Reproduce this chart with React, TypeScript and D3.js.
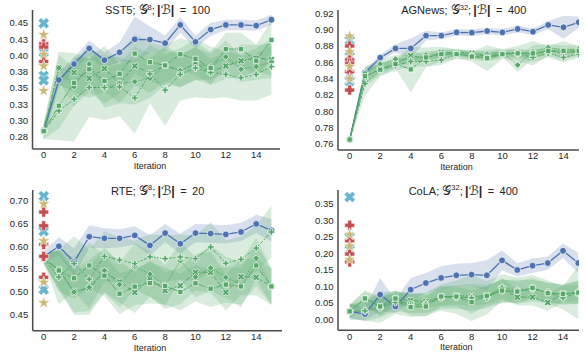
import React from "react";
import * as d3 from "d3";

// ---------- shared categories ----------
const ITER = [0, 1, 2, 3, 4, 5, 6, 7, 8, 9, 10, 11, 12, 13, 14, 15];
const X_TICKS = [0, 2, 4, 6, 8, 10, 12, 14];
const X_TICK_LABELS = ["0", "2", "4", "6", "8", "10", "12", "14"];
const PANEL_NAMES = ["SST5", "AGNews", "RTE", "CoLA"];
const PANEL_GROUPS = ["8", "32", "8", "32"];
const PANEL_BUDGETS = ["100", "400", "20", "400"];
const X_LABEL = "Iteration";

// ---------- SST5 ----------
const sst5Blue = [0.285, 0.3625, 0.387, 0.411, 0.393, 0.405, 0.425, 0.4245, 0.419, 0.447, 0.421, 0.44, 0.447, 0.447, 0.446, 0.455];
const sst5BlueSd = [0.006, 0.012, 0.01, 0.012, 0.012, 0.015, 0.035, 0.02, 0.012, 0.012, 0.01, 0.01, 0.008, 0.008, 0.008, 0.008];
const sst5X = [0.284, 0.381, 0.374, 0.365, 0.38, 0.357, 0.384, 0.373, 0.385, 0.376, 0.388, 0.375, 0.384, 0.392, 0.396, 0.394];
const sst5XSd = [0.012, 0.025, 0.03, 0.03, 0.035, 0.03, 0.03, 0.03, 0.025, 0.025, 0.025, 0.02, 0.02, 0.025, 0.02, 0.025];
const sst5Diamond = [0.284, 0.381, 0.352, 0.387, 0.35, 0.357, 0.36, 0.365, 0.385, 0.377, 0.387, 0.383, 0.398, 0.379, 0.383, 0.39];
const sst5DiamondSd = [0.012, 0.02, 0.03, 0.03, 0.03, 0.03, 0.035, 0.03, 0.03, 0.025, 0.025, 0.02, 0.025, 0.02, 0.02, 0.025];
const sst5Plus = [0.284, 0.315, 0.333, 0.351, 0.351, 0.352, 0.335, 0.372, 0.347, 0.371, 0.381, 0.374, 0.371, 0.366, 0.371, 0.383];
const sst5PlusSd = [0.012, 0.045, 0.065, 0.045, 0.05, 0.045, 0.055, 0.045, 0.055, 0.04, 0.045, 0.04, 0.035, 0.035, 0.04, 0.043];
const sst5Square = [0.284, 0.323, 0.358, 0.379, 0.361, 0.372, 0.403, 0.39, 0.385, 0.402, 0.395, 0.381, 0.41, 0.41, 0.392, 0.424];
const sst5SquareSd = [0.012, 0.035, 0.035, 0.035, 0.035, 0.03, 0.03, 0.03, 0.03, 0.025, 0.025, 0.025, 0.025, 0.025, 0.025, 0.03];
const sst5BaseCyan = [0.4495, 0.405, 0.369, 0.362];
const sst5BaseRed = [0.418, 0.413, 0.391];
const sst5BaseGold = [0.432, 0.402, 0.384, 0.346];
const sst5YTicks = [0.275, 0.3, 0.325, 0.35, 0.375, 0.4, 0.425, 0.45];
const sst5YLabels = ["0.28", "0.30", "0.33", "0.35", "0.38", "0.40", "0.43", "0.45"];

// ---------- AGNews ----------
const agBlue = [0.7655, 0.847, 0.8657, 0.877, 0.877, 0.8926, 0.8926, 0.8967, 0.8963, 0.8983, 0.8967, 0.9008, 0.8975, 0.9057, 0.9029, 0.909];
const agBlueSd = [0.003, 0.004, 0.004, 0.005, 0.012, 0.006, 0.004, 0.004, 0.004, 0.004, 0.004, 0.004, 0.004, 0.005, 0.014, 0.007];
const agX = [0.7655, 0.842, 0.852, 0.858, 0.868, 0.865, 0.872, 0.872, 0.871, 0.867, 0.871, 0.872, 0.87, 0.874, 0.872, 0.873];
const agXSd = [0.003, 0.008, 0.005, 0.005, 0.006, 0.005, 0.005, 0.004, 0.004, 0.005, 0.004, 0.005, 0.005, 0.004, 0.005, 0.004];
const agDiamond = [0.7655, 0.8465, 0.858, 0.864, 0.863, 0.869, 0.869, 0.872, 0.869, 0.87, 0.872, 0.8567, 0.873, 0.878, 0.875, 0.8763];
const agDiamondSd = [0.003, 0.008, 0.005, 0.005, 0.006, 0.005, 0.005, 0.004, 0.005, 0.005, 0.005, 0.009, 0.008, 0.004, 0.006, 0.004];
const agPlus = [0.7655, 0.834, 0.851, 0.856, 0.861, 0.861, 0.8628, 0.87, 0.868, 0.866, 0.87, 0.871, 0.866, 0.871, 0.866, 0.87];
const agPlusSd = [0.003, 0.015, 0.008, 0.006, 0.006, 0.006, 0.006, 0.005, 0.005, 0.005, 0.005, 0.005, 0.006, 0.005, 0.006, 0.005];
const agSquare = [0.7655, 0.843, 0.851, 0.858, 0.8514, 0.866, 0.87, 0.87, 0.867, 0.865, 0.87, 0.871, 0.871, 0.874, 0.874, 0.874];
const agSquareSd = [0.003, 0.012, 0.007, 0.006, 0.028, 0.012, 0.009, 0.006, 0.006, 0.016, 0.006, 0.009, 0.015, 0.006, 0.012, 0.006];
const agBaseCyan = [0.887, 0.867, 0.845, 0.837];
const agBaseRed = [0.88, 0.863, 0.859, 0.8485, 0.826];
const agBaseGold = [0.892, 0.873, 0.855, 0.84];
const agYTicks = [0.76, 0.78, 0.8, 0.82, 0.84, 0.86, 0.88, 0.9, 0.92];
const agYLabels = ["0.76", "0.78", "0.80", "0.82", "0.84", "0.86", "0.88", "0.90", "0.92"];

// ---------- RTE ----------
const rteBlue = [0.577, 0.6, 0.5656, 0.621, 0.6175, 0.6175, 0.624, 0.602, 0.629, 0.6057, 0.629, 0.628, 0.626, 0.6314, 0.649, 0.635];
const rteBlueSd = [0.012, 0.02, 0.03, 0.025, 0.022, 0.02, 0.02, 0.022, 0.02, 0.022, 0.02, 0.02, 0.02, 0.02, 0.02, 0.025];
const rteX = [0.573, 0.549, 0.5, 0.508, 0.545, 0.522, 0.499, 0.53, 0.5027, 0.5137, 0.543, 0.543, 0.499, 0.5334, 0.532, 0.512];
const rteXSd = [0.01, 0.04, 0.045, 0.05, 0.045, 0.045, 0.045, 0.04, 0.04, 0.04, 0.04, 0.045, 0.04, 0.04, 0.04, 0.04];
const rteDiamond = [0.573, 0.5487, 0.4998, 0.51, 0.547, 0.516, 0.556, 0.539, 0.514, 0.5685, 0.5327, 0.5525, 0.532, 0.516, 0.5737, 0.512];
const rteDiamondSd = [0.01, 0.045, 0.05, 0.06, 0.05, 0.05, 0.05, 0.05, 0.045, 0.04, 0.045, 0.05, 0.045, 0.05, 0.045, 0.04];
const rtePlus = [0.573, 0.5327, 0.562, 0.528, 0.578, 0.57, 0.562, 0.577, 0.573, 0.5765, 0.573, 0.5985, 0.5627, 0.5715, 0.596, 0.6314];
const rtePlusSd = [0.01, 0.06, 0.06, 0.065, 0.055, 0.05, 0.05, 0.05, 0.05, 0.05, 0.05, 0.055, 0.05, 0.05, 0.05, 0.057];
const rteSquare = [0.573, 0.547, 0.53, 0.558, 0.5355, 0.496, 0.5115, 0.5195, 0.513, 0.4998, 0.519, 0.507, 0.516, 0.512, 0.558, 0.512];
const rteSquareSd = [0.01, 0.045, 0.045, 0.05, 0.045, 0.045, 0.04, 0.045, 0.04, 0.04, 0.04, 0.04, 0.04, 0.04, 0.045, 0.04];
const rteBaseCyan = [0.71, 0.633, 0.505];
const rteBaseRed = [0.675, 0.645, 0.604, 0.578, 0.532];
const rteBaseGold = [0.693, 0.612, 0.521, 0.476];
const rteYTicks = [0.45, 0.5, 0.55, 0.6, 0.65, 0.7];
const rteYLabels = ["0.45", "0.50", "0.55", "0.60", "0.65", "0.70"];

// ---------- CoLA ----------
const colaBlue = [0.025, 0.017, 0.0755, 0.04, 0.0905, 0.1107, 0.126, 0.134, 0.136, 0.134, 0.179, 0.15, 0.163, 0.171, 0.208, 0.171];
const colaBlueSd = [0.025, 0.018, 0.05, 0.02, 0.035, 0.03, 0.035, 0.035, 0.035, 0.045, 0.03, 0.02, 0.022, 0.02, 0.022, 0.03];
const colaX = [0.025, 0.064, 0.04, 0.063, 0.058, 0.055, 0.068, 0.072, 0.071, 0.072, 0.094, 0.068, 0.068, 0.052, 0.078, 0.08];
const colaXSd = [0.02, 0.02, 0.025, 0.02, 0.02, 0.02, 0.025, 0.025, 0.03, 0.025, 0.03, 0.025, 0.025, 0.025, 0.025, 0.025];
const colaDiamond = [0.025, 0.025, 0.037, 0.055, 0.05, 0.05, 0.067, 0.068, 0.068, 0.07, 0.085, 0.086, 0.09, 0.083, 0.075, 0.083];
const colaDiamondSd = [0.02, 0.03, 0.03, 0.03, 0.03, 0.03, 0.035, 0.035, 0.04, 0.035, 0.035, 0.035, 0.03, 0.03, 0.03, 0.035];
const colaPlus = [0.025, 0.027, 0.036, 0.052, 0.043, 0.047, 0.067, 0.068, 0.066, 0.066, 0.097, 0.088, 0.095, 0.083, 0.066, 0.082];
const colaPlusSd = [0.02, 0.03, 0.045, 0.035, 0.035, 0.035, 0.04, 0.05, 0.07, 0.05, 0.04, 0.04, 0.04, 0.035, 0.035, 0.08];
const colaSquare = [0.025, 0.064, 0.04, 0.064, 0.038, 0.04, 0.07, 0.07, 0.053, 0.072, 0.088, 0.085, 0.096, 0.08, 0.078, 0.082];
const colaSquareSd = [0.02, 0.025, 0.03, 0.025, 0.025, 0.03, 0.03, 0.03, 0.035, 0.03, 0.035, 0.03, 0.03, 0.03, 0.03, 0.035];
const colaBaseCyan = [0.37, 0.249, 0.211];
const colaBaseRed = [0.285, 0.238, 0.198, 0.174];
const colaBaseGold = [0.257, 0.222, 0.181];
const colaYTicks = [0, 0.05, 0.1, 0.15, 0.2, 0.25, 0.3, 0.35];
const colaYLabels = ["0.00", "0.05", "0.10", "0.15", "0.20", "0.25", "0.30", "0.35"];

// ---------- styling ----------
const BLUE = "#4C72B0";
const GREEN = "#55A868";
const RED = "#C44E52";
const GOLD = "#CCB974";
const CYAN = "#64B5CD";
const TEXT = "#262626";
const SPINE = "#4a4a4a";
const FONT = "'Liberation Sans', Arial, Helvetica, sans-serif";
const MATH_FONT = "'DejaVu Sans', 'Noto Sans', sans-serif";

type Kind = "o" | "X" | "D" | "P" | "s" | "star";

function crossPts(r: number, w: number): [number, number][] {
  return [
    [-w, -r], [w, -r], [w, -w], [r, -w], [r, w], [w, w],
    [w, r], [-w, r], [-w, w], [-r, w], [-r, -w], [-w, -w],
  ];
}
function rotPts(pts: [number, number][], a: number): [number, number][] {
  const c = Math.cos(a), s = Math.sin(a);
  return pts.map(([x, y]) => [x * c - y * s, x * s + y * c]);
}
function polyPath(pts: [number, number][]) {
  return "M" + pts.map((p) => p[0].toFixed(2) + "," + p[1].toFixed(2)).join("L") + "Z";
}
function markerPath(kind: Kind, big: boolean): string {
  switch (kind) {
    case "o":
      return d3.symbol(d3.symbolCircle, 36)() as string;
    case "X":
      return big ? polyPath(rotPts(crossPts(5.8, 2.1), Math.PI / 4)) : polyPath(rotPts(crossPts(3.7, 1.3), Math.PI / 4));
    case "P":
      return big ? polyPath(crossPts(5.0, 2.0)) : polyPath(crossPts(3.4, 1.15));
    case "D":
      return polyPath([[0, -3.3], [3.3, 0], [0, 3.3], [-3.3, 0]]);
    case "s":
      return polyPath([[-2.6, -2.6], [2.6, -2.6], [2.6, 2.6], [-2.6, 2.6]]);
    case "star":
      return d3.symbol(d3.symbolStar, 48)() as string;
  }
}

type Series = { mean: number[]; sd: number[]; color: string; kind: Kind; dash: string; width: number };
type Layout = {
  left: number; right: number; top: number; bottom: number;
  x0: number; x14: number; va: number; vb: number; pa: number; pb: number;
  titleX: number; titleY: number;
};
type PanelDef = {
  idx: number; layout: Layout; series: Series[];
  baseCyan: number[]; baseRed: number[]; baseGold: number[];
  yTicks: number[]; yLabels: string[];
};

function mkSeries(blue: number[], blueSd: number[], xs: number[], xsSd: number[], ds: number[], dsSd: number[], ps: number[], psSd: number[], ss: number[], ssSd: number[]): Series[] {
  return [
    { mean: blue, sd: blueSd, color: BLUE, kind: "o", dash: "", width: 1.3 },
    { mean: xs, sd: xsSd, color: GREEN, kind: "X", dash: "4.8,1.8", width: 1 },
    { mean: ds, sd: dsSd, color: GREEN, kind: "D", dash: "1.2,1.2", width: 1 },
    { mean: ps, sd: psSd, color: GREEN, kind: "P", dash: "3.6,1.5,1.8,1.5", width: 1 },
    { mean: ss, sd: ssSd, color: GREEN, kind: "s", dash: "6,1.2,1.2,1.2", width: 1 },
  ];
}

const PANELS: PanelDef[] = [
  {
    idx: 0,
    layout: { left: 32.5, right: 280, top: 10, bottom: 149, x0: 43.7, x14: 256.2, va: 0.275, vb: 0.45, pa: 137, pb: 23, titleX: 157.5, titleY: 14 },
    series: mkSeries(sst5Blue, sst5BlueSd, sst5X, sst5XSd, sst5Diamond, sst5DiamondSd, sst5Plus, sst5PlusSd, sst5Square, sst5SquareSd),
    baseCyan: sst5BaseCyan, baseRed: sst5BaseRed, baseGold: sst5BaseGold, yTicks: sst5YTicks, yLabels: sst5YLabels,
  },
  {
    idx: 1,
    layout: { left: 338, right: 579, top: 10, bottom: 150, x0: 349.7, x14: 563.5, va: 0.76, vb: 0.92, pa: 144, pb: 13.3, titleX: 463.8, titleY: 14 },
    series: mkSeries(agBlue, agBlueSd, agX, agXSd, agDiamond, agDiamondSd, agPlus, agPlusSd, agSquare, agSquareSd),
    baseCyan: agBaseCyan, baseRed: agBaseRed, baseGold: agBaseGold, yTicks: agYTicks, yLabels: agYLabels,
  },
  {
    idx: 2,
    layout: { left: 32.7, right: 282, top: 190, bottom: 330.7, x0: 43.7, x14: 256.2, va: 0.45, vb: 0.7, pa: 314.7, pb: 200.7, titleX: 157.7, titleY: 194.5 },
    series: mkSeries(rteBlue, rteBlueSd, rteX, rteXSd, rteDiamond, rteDiamondSd, rtePlus, rtePlusSd, rteSquare, rteSquareSd),
    baseCyan: rteBaseCyan, baseRed: rteBaseRed, baseGold: rteBaseGold, yTicks: rteYTicks, yLabels: rteYLabels,
  },
  {
    idx: 3,
    layout: { left: 338, right: 579, top: 190, bottom: 330.3, x0: 349.7, x14: 563, va: 0, vb: 0.35, pa: 319.7, pb: 203.7, titleX: 463.3, titleY: 194.5 },
    series: mkSeries(colaBlue, colaBlueSd, colaX, colaXSd, colaDiamond, colaDiamondSd, colaPlus, colaPlusSd, colaSquare, colaSquareSd),
    baseCyan: colaBaseCyan, baseRed: colaBaseRed, baseGold: colaBaseGold, yTicks: colaYTicks, yLabels: colaYLabels,
  },
];

function Panel({ p }: { p: PanelDef }) {
  const L = p.layout;
  const x = d3.scaleLinear().domain([0, 14]).range([L.x0, L.x14]);
  const y = d3.scaleLinear().domain([L.va, L.vb]).range([L.pa, L.pb]);
  const clipId = "clip" + p.idx;

  const bandPath = (s: Series) =>
    d3
      .area<number>()
      .x((_, i) => x(ITER[i]))
      .y0((d, i) => y(d - s.sd[i]))
      .y1((d, i) => y(d + s.sd[i]))(s.mean) as string;
  const linePath = (s: Series) =>
    d3
      .line<number>()
      .x((_, i) => x(ITER[i]))
      .y((d) => y(d))(s.mean) as string;

  return (
    <g>
      <defs>
        <clipPath id={clipId}>
          <rect x={L.left} y={L.top} width={L.right - L.left} height={L.bottom - L.top} />
        </clipPath>
      </defs>
      {/* title */}
      <text x={L.titleX} y={L.titleY} textAnchor="middle" fontSize={11} fill={TEXT} fontFamily={FONT}>
        {PANEL_NAMES[p.idx] + "; "}
        <tspan fontFamily={MATH_FONT} fontSize={13}>𝒢</tspan>
        <tspan fontSize={7.5} dy={-4.5}>{PANEL_GROUPS[p.idx]}</tspan>
        <tspan dy={4.5}>{";\u2009"}</tspan>
        <tspan fontWeight="bold" fontSize={12.5}>|</tspan>
        <tspan fontFamily={MATH_FONT} fontSize={13}>ℬ</tspan>
        <tspan fontWeight="bold" fontSize={12.5}>|</tspan>
        <tspan>{"\u2002=\u2002" + PANEL_BUDGETS[p.idx]}</tspan>
      </text>

      <g clipPath={`url(#${clipId})`}>
        {p.series.map((s, k) => (
          <path key={"b" + k} d={bandPath(s)} fill={s.color} fillOpacity={0.22} stroke="none" />
        ))}
        {p.series.map((s, k) => (
          <g key={"l" + k}>
            <path d={linePath(s)} fill="none" stroke={s.color} strokeWidth={s.width} strokeDasharray={s.dash || undefined} />
            {s.mean.map((v, i) => (
              <path
                key={i}
                d={markerPath(s.kind, false)}
                transform={`translate(${x(ITER[i])},${y(v)})`}
                fill={s.color}
                stroke="white"
                strokeWidth={0.7}
              />
            ))}
          </g>
        ))}
        {p.baseCyan.map((v, i) => (
          <path key={"c" + i} d={markerPath("X", true)} transform={`translate(${x(0)},${y(v)})`} fill={CYAN} stroke="white" strokeWidth={0.6} />
        ))}
        {p.baseRed.map((v, i) => (
          <path key={"r" + i} d={markerPath("P", true)} transform={`translate(${x(0)},${y(v)})`} fill={RED} stroke="white" strokeWidth={0.6} />
        ))}
        {p.baseGold.map((v, i) => (
          <path key={"g" + i} d={markerPath("star", true)} transform={`translate(${x(0)},${y(v)})`} fill={GOLD} stroke="white" strokeWidth={0.6} />
        ))}
      </g>

      {/* spines */}
      <line x1={L.left} x2={L.left} y1={L.top} y2={L.bottom} stroke={SPINE} strokeWidth={1.5} />
      <line x1={L.left} x2={L.right} y1={L.bottom} y2={L.bottom} stroke={SPINE} strokeWidth={1.5} />

      {/* y tick labels */}
      {p.yTicks.map((t, i) => (
        <text key={"yt" + i} x={L.left - 4.5} y={y(t)} dy="0.35em" textAnchor="end" fontSize={9.5} fill={TEXT} fontFamily={FONT}>
          {p.yLabels[i]}
        </text>
      ))}
      {/* x tick labels */}
      {X_TICKS.map((t, i) => (
        <text key={"xt" + i} x={x(t)} y={L.bottom + 9.3} textAnchor="middle" fontSize={9.5} fill={TEXT} fontFamily={FONT}>
          {X_TICK_LABELS[i]}
        </text>
      ))}
      <text x={(x(0) + x(14)) / 2} y={L.bottom + 20} textAnchor="middle" fontSize={9} fill={TEXT} fontFamily={FONT}>
        {X_LABEL}
      </text>
    </g>
  );
}

export default function App() {
  return (
    <svg
      width={586}
      height={356}
      viewBox="0 0 586 356"
      style={{ position: "absolute", left: 0, top: 0, display: "block" }}
    >
      <rect width={586} height={356} fill="white" />
      {PANELS.map((p) => (
        <Panel key={p.idx} p={p} />
      ))}
    </svg>
  );
}
